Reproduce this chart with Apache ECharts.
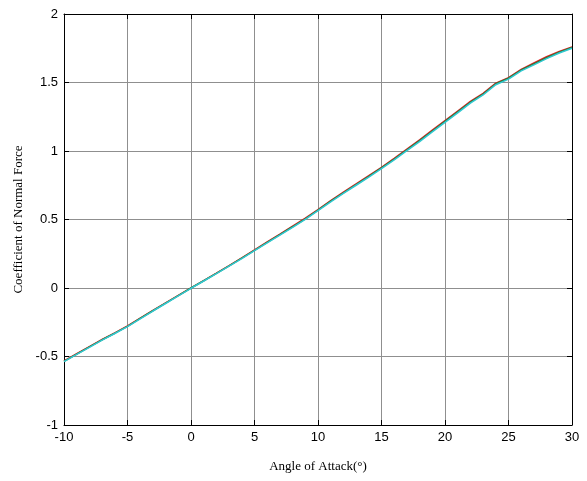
<!DOCTYPE html>
<html>
<head>
<meta charset="utf-8">
<script src="https://cdn.jsdelivr.net/npm/echarts@6/dist/echarts.min.js"></script>
<style>
html,body{margin:0;padding:0;background:#fff;}
#c{width:587px;height:481px;}
</style>
</head>
<body>
<div id="c"></div>
<script>
const angles = [-10,-9,-8,-7,-6,-5,-4,-3,-2,-1,0,1,2,3,4,5,6,7,8,9,10,11,12,13,14,15,16,17,18,19,20,21,22,23,24,25,26,27,28,29,30];
const redValues = [-0.533,-0.480,-0.428,-0.376,-0.327,-0.277,-0.220,-0.164,-0.109,-0.054,0.001,0.054,0.108,0.163,0.220,0.278,0.336,0.393,0.452,0.510,0.572,0.638,0.699,0.760,0.820,0.880,0.946,1.014,1.082,1.152,1.222,1.292,1.362,1.421,1.495,1.536,1.596,1.642,1.688,1.727,1.760];
const greenValues = [-0.535,-0.482,-0.430,-0.378,-0.330,-0.280,-0.222,-0.166,-0.111,-0.056,0.000,0.053,0.107,0.162,0.218,0.275,0.333,0.390,0.447,0.505,0.568,0.634,0.695,0.755,0.815,0.876,0.941,1.008,1.076,1.146,1.216,1.286,1.356,1.416,1.491,1.531,1.591,1.636,1.681,1.721,1.755];
const cyanValues = [-0.538,-0.485,-0.433,-0.380,-0.332,-0.282,-0.225,-0.168,-0.113,-0.058,-0.002,0.051,0.105,0.160,0.215,0.272,0.330,0.386,0.443,0.501,0.564,0.629,0.690,0.750,0.810,0.871,0.935,1.002,1.069,1.139,1.209,1.279,1.349,1.409,1.484,1.525,1.585,1.629,1.674,1.715,1.750];
const xLabel = 'Angle of Attack(°)';
const yLabel = 'Coefficient of Normal Force';

function pairs(vals){ return angles.map((a,i)=>[a, vals[i]]); }

const chart = echarts.init(document.getElementById('c'), null, {renderer:'canvas'});
const gridLine = {show:true, lineStyle:{color:'#8f8f8f', width:1, type:'solid'}};
const axisLine = {show:true, onZero:false, lineStyle:{color:'#000', width:1}};
const tick = {show:true, inside:true, length:5, lineStyle:{color:'#000', width:1}};
chart.setOption({
  animation:false,
  backgroundColor:'#fff',
  grid:{left:64, top:14, right:15, bottom:56, containLabel:false},
  xAxis:[{
    type:'value', min:-10, max:30, interval:5, position:'bottom',
    name:xLabel, nameLocation:'middle', nameGap:35,
    nameTextStyle:{fontFamily:'Liberation Serif', fontSize:13, color:'#000'},
    axisLine:axisLine, axisTick:tick, splitLine:gridLine,
    axisLabel:{fontFamily:'Liberation Sans', fontSize:13, color:'#000', margin:6}
  },{
    type:'value', min:-10, max:30, interval:5, position:'top',
    axisLine:axisLine, axisTick:tick, splitLine:{show:false}, axisLabel:{show:false}
  }],
  yAxis:[{
    type:'value', min:-1, max:2, interval:0.5, position:'left',
    name:yLabel, nameLocation:'middle', nameGap:33,
    nameTextStyle:{fontFamily:'Liberation Serif', fontSize:13, color:'#000'},
    axisLine:axisLine, axisTick:tick, splitLine:gridLine,
    axisLabel:{fontFamily:'Liberation Sans', fontSize:13, color:'#000', margin:6}
  },{
    type:'value', min:-1, max:2, interval:0.5, position:'right',
    axisLine:axisLine, axisTick:tick, splitLine:{show:false}, axisLabel:{show:false}
  }],
  series:[
    {type:'line', data:pairs(redValues), showSymbol:false, lineStyle:{color:'#e02020', width:1.5}, itemStyle:{color:'#e02020'}},
    {type:'line', data:pairs(greenValues), showSymbol:false, lineStyle:{color:'#2a7a3a', width:1.5}, itemStyle:{color:'#2a7a3a'}},
    {type:'line', data:pairs(cyanValues), showSymbol:false, lineStyle:{color:'#30c8d0', width:1.5}, itemStyle:{color:'#30c8d0'}}
  ]
});
</script>
</body>
</html>
